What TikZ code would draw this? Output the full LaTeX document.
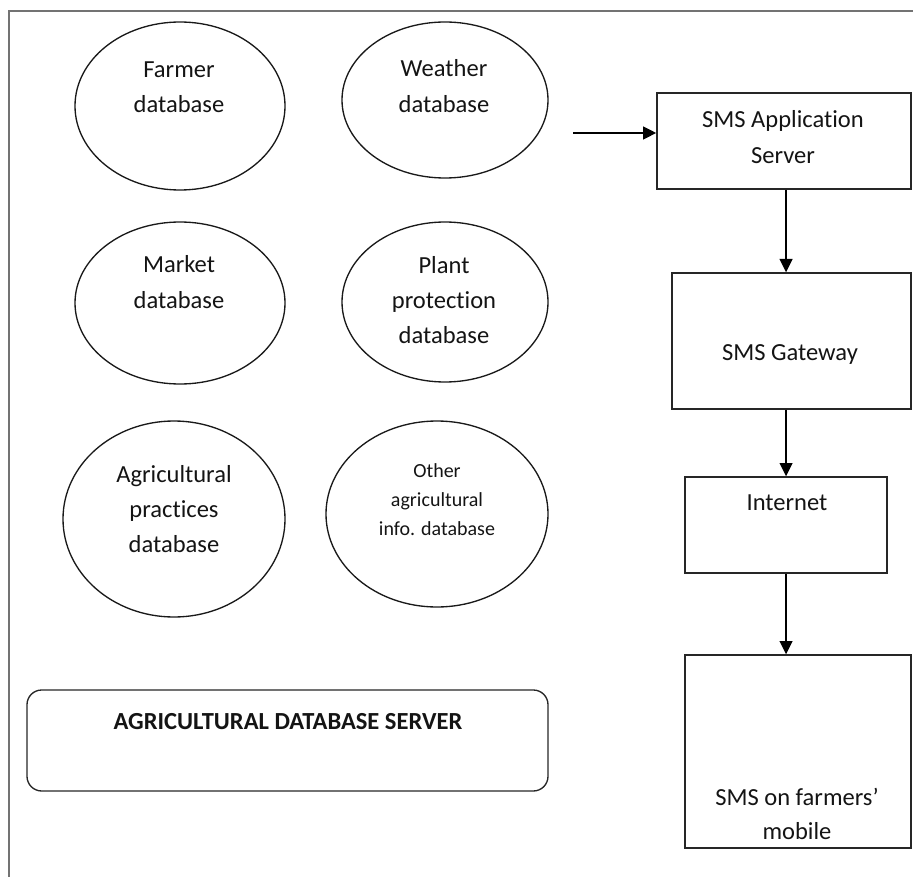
\documentclass[tikz,border=0pt]{standalone}
\usepackage{fontspec}
\setmainfont{Carlito}[Ligatures={TeX,NoCommon}]
\usetikzlibrary{arrows.meta,shapes.geometric}
\begin{document}
\begin{tikzpicture}[x=0.75pt,y=-0.75pt,
  db/.style={draw=black!90, line width=1pt, ellipse, inner sep=0pt},
  box/.style={draw=black!85, line width=1pt, rectangle, inner sep=0pt},
  txt/.style={align=center, inner sep=0pt, text=black!92,
    font=\fontsize{18.4pt}{26.5pt}\selectfont},
  smalltxt/.style={txt, font=\fontsize{15pt}{21.75pt}\selectfont},
  boldtxt/.style={txt, font=\fontsize{18.4pt}{26.5pt}\selectfont\bfseries},
  flow/.style={line width=1.6pt, -{Triangle[length=10pt,width=9.5pt]}},
  frameline/.style={draw=black!55, line width=1.4pt}
]
\useasboundingbox (0,0) rectangle (913,877);

% open frame: top and left edges only
\coordinate (frameTR) at (913,11);
\coordinate (frameTL) at (9,11);
\coordinate (frameBL) at (9,877);
\draw[frameline] (frameTR) -- (frameTL) -- (frameBL);

% databases
\node[db, minimum width=157.5pt, minimum height=126pt]  (farmer)  at (180,106) {};
\node[db, minimum width=154.5pt, minimum height=117pt]  (weather) at (445,100) {};
\node[db, minimum width=157.5pt, minimum height=121.5pt] (market) at (180,303) {};
\node[db, minimum width=154.5pt, minimum height=120pt]  (plant)   at (445,302) {};
\node[db, minimum width=166.5pt, minimum height=147pt]  (agri)    at (174,519) {};
\node[db, minimum width=166.5pt, minimum height=139.5pt] (other)  at (437,514) {};

\node[txt] (farmer-t)  at (179,87)  {Farmer\\database};
\node[txt] (weather-t) at (444,86)  {Weather\\database};
\node[txt] (market-t)  at (179,282) {Market\\database};
\node[txt] (plant-t)   at (444,300) {Plant\\protection\\database};
\node[txt] (agri-t)    at (174,509) {Agricultural\\practices\\database};
\node[smalltxt] (other-t) at (437,500) {Other\\agricultural\\info. database};

% database server
\node[box, rounded corners=11pt, minimum width=390.75pt, minimum height=75.75pt]
  (server) at (287.5,740.5) {};
\node[boldtxt] (server-t) at (288,722) {AGRICULTURAL DATABASE SERVER};

% SMS chain
\node[box, minimum width=190.5pt, minimum height=72pt]     (app)  at (784,141) {};
\node[box, minimum width=179.25pt, minimum height=102pt]   (gw)   at (791.5,341) {};
\node[box, minimum width=151.5pt, minimum height=72pt]     (inet) at (786,525) {};
\node[box, minimum width=169.5pt, minimum height=144.75pt] (mob)  at (798,751.5) {};

\node[txt] (app-t)  at (783,137) {SMS Application\\Server};
\node[txt] (gw-t)   at (790,355) {SMS Gateway};
\node[txt] (inet-t) at (787,503) {Internet};
\node[txt, font=\fontsize{18.4pt}{25pt}\selectfont] (mob-t) at (797,814) {SMS on farmers’\\mobile};

% connectors
\coordinate (feed) at (573,133);
\draw[flow] (feed) -- (feed -| app.west);
\draw[flow] (app.south -| inet.south) -- (gw.north -| inet.south);
\draw[flow] (gw.south -| inet.north) -- (inet.north);
\draw[flow] (inet.south) -- (mob.north -| inet.south);
\end{tikzpicture}
\end{document}
